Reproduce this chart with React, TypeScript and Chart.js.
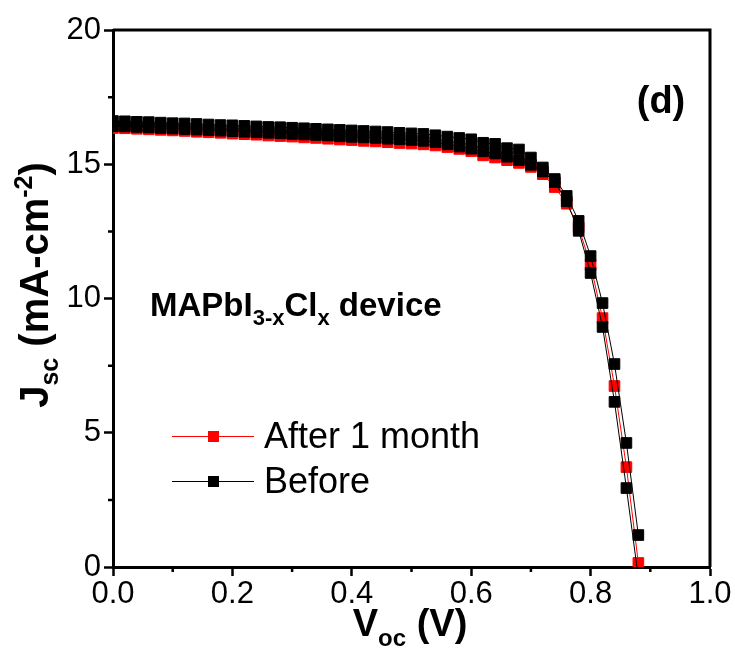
import React, { useEffect, useRef } from 'react';
import { Chart, registerables } from 'chart.js';

Chart.register(...registerables);

// ---- Data ----
const voltage = [
  0.0, 0.02, 0.04, 0.06, 0.08, 0.1, 0.12, 0.14, 0.16, 0.18,
  0.2, 0.22, 0.24, 0.26, 0.28, 0.3, 0.32, 0.34, 0.36, 0.38,
  0.4, 0.42, 0.44, 0.46, 0.48, 0.5, 0.52, 0.54, 0.56, 0.58,
  0.6, 0.62, 0.64, 0.66, 0.68, 0.7, 0.72, 0.74, 0.76, 0.78,
  0.8, 0.82, 0.84, 0.86, 0.88,
];

// "Before" – first scan (upper squares)
const beforeScanA = [
  16.61, 16.6, 16.58, 16.57, 16.55, 16.53, 16.52, 16.5, 16.48, 16.46,
  16.45, 16.43, 16.41, 16.39, 16.38, 16.36, 16.34, 16.32, 16.3, 16.28,
  16.26, 16.24, 16.22, 16.2, 16.17, 16.15, 16.13, 16.08, 16.03, 15.98,
  15.93, 15.8, 15.76, 15.6, 15.55, 15.25, 14.88, 14.45, 13.82, 12.89,
  11.58, 9.83, 7.56, 4.62, 1.19,
];

// "Before" – second scan (lower squares)
const beforeScanB = [
  16.42, 16.41, 16.39, 16.37, 16.35, 16.33, 16.31, 16.29, 16.27, 16.25,
  16.23, 16.21, 16.19, 16.17, 16.15, 16.13, 16.11, 16.09, 16.07, 16.04,
  16.02, 16.0, 15.98, 15.95, 15.93, 15.9, 15.87, 15.82, 15.74, 15.66,
  15.58, 15.48, 15.4, 15.28, 15.15, 14.98, 14.73, 14.33, 13.62, 12.52,
  10.95, 8.94, 6.15, 2.94, -0.4,
];

// "After 1 month"
const afterOneMonth = [
  16.35, 16.34, 16.32, 16.3, 16.28, 16.26, 16.24, 16.21, 16.19, 16.17,
  16.14, 16.12, 16.1, 16.07, 16.05, 16.03, 16.0, 15.98, 15.95, 15.92,
  15.9, 15.87, 15.85, 15.82, 15.79, 15.77, 15.74, 15.7, 15.64, 15.57,
  15.49, 15.33, 15.25, 15.15, 15.05, 14.9, 14.63, 14.15, 13.53, 12.65,
  11.25, 9.27, 6.74, 3.72, 0.15,
];

const xMajorTicks = [0, 0.2, 0.4, 0.6, 0.8, 1.0];
const xMinorTicks = [0.1, 0.3, 0.5, 0.7, 0.9];
const yMajorTicks = [0, 5, 10, 15, 20];
const yMinorTicks = [2.5, 7.5, 12.5, 17.5];

const seriesLabels = ['After 1 month', 'Before'];

const FONT = '"Liberation Sans", Arial, Helvetica, sans-serif';

type Part = { t: string; size: number; bold?: boolean; dy?: number };

function drawRich(
  ctx: CanvasRenderingContext2D,
  parts: Part[],
  x: number,
  y: number,
  align: 'left' | 'center'
) {
  let total = 0;
  const widths = parts.map((p) => {
    ctx.font = `${p.bold ? 'bold ' : ''}${p.size}px ${FONT}`;
    const w = ctx.measureText(p.t).width;
    total += w;
    return w;
  });
  let cx = align === 'center' ? x - total / 2 : x;
  ctx.textAlign = 'left';
  ctx.textBaseline = 'alphabetic';
  parts.forEach((p, i) => {
    ctx.font = `${p.bold ? 'bold ' : ''}${p.size}px ${FONT}`;
    ctx.fillText(p.t, cx, y + (p.dy || 0));
    cx += widths[i];
  });
}

const decorPlugin = {
  id: 'decor',
  afterDraw(chart: any) {
    const { ctx, chartArea, scales } = chart;
    const xs = scales.x;
    const ys = scales.y;
    ctx.save();
    ctx.strokeStyle = '#000';
    ctx.fillStyle = '#000';

    // top & right frame
    ctx.lineWidth = 3;
    ctx.beginPath();
    ctx.moveTo(chartArea.left, chartArea.top);
    ctx.lineTo(chartArea.right, chartArea.top);
    ctx.lineTo(chartArea.right, chartArea.bottom);
    ctx.stroke();

    // minor ticks
    ctx.lineWidth = 2.5;
    ctx.beginPath();
    xMinorTicks.forEach((v) => {
      const px = xs.getPixelForValue(v);
      ctx.moveTo(px, chartArea.bottom);
      ctx.lineTo(px, chartArea.bottom + 5);
    });
    yMinorTicks.forEach((v) => {
      const py = ys.getPixelForValue(v);
      ctx.moveTo(chartArea.left, py);
      ctx.lineTo(chartArea.left - 5, py);
    });
    ctx.stroke();

    // legend
    const legendItems = [
      { label: seriesLabels[0], color: '#ff0000', y: 436 },
      { label: seriesLabels[1], color: '#000000', y: 481 },
    ];
    legendItems.forEach((it) => {
      ctx.strokeStyle = it.color;
      ctx.fillStyle = it.color;
      ctx.lineWidth = 1;
      ctx.beginPath();
      ctx.moveTo(172, it.y + 0.5);
      ctx.lineTo(254, it.y + 0.5);
      ctx.stroke();
      ctx.fillRect(208, it.y - 5, 11, 11);
      ctx.fillStyle = '#000';
      ctx.font = `36px ${FONT}`;
      ctx.textAlign = 'left';
      ctx.textBaseline = 'middle';
      ctx.fillText(it.label, 264, it.y + 2);
    });

    // annotation
    ctx.fillStyle = '#000';
    drawRich(
      ctx,
      [
        { t: 'MAPbI', size: 33, bold: true },
        { t: '3-x', size: 22, bold: true, dy: 9 },
        { t: 'Cl', size: 33, bold: true },
        { t: 'x', size: 22, bold: true, dy: 9 },
        { t: ' device', size: 33, bold: true },
      ],
      150,
      316,
      'left'
    );

    // panel label
    drawRich(ctx, [{ t: '(d)', size: 38, bold: true }], 661, 113, 'center');

    // x title
    drawRich(
      ctx,
      [
        { t: 'V', size: 38, bold: true },
        { t: 'oc', size: 24, bold: true, dy: 10 },
        { t: ' (V)', size: 38, bold: true },
      ],
      410,
      636,
      'center'
    );

    // y title
    ctx.save();
    ctx.translate(48, 285);
    ctx.rotate(-Math.PI / 2);
    drawRich(
      ctx,
      [
        { t: 'J', size: 40, bold: true },
        { t: 'sc', size: 25, bold: true, dy: 10 },
        { t: ' (mA-cm', size: 40, bold: true },
        { t: '-2', size: 25, bold: true, dy: -16 },
        { t: ')', size: 40, bold: true },
      ],
      0,
      0,
      'center'
    );
    ctx.restore();

    ctx.restore();
  },
};

function toPoints(ys: number[]) {
  return voltage.map((v, i) => ({ x: v, y: ys[i] }));
}

export default function App() {
  const canvasRef = useRef<HTMLCanvasElement | null>(null);

  useEffect(() => {
    document.body.style.margin = '0';
    const canvas = canvasRef.current;
    if (!canvas) return;
    const commonPoint = {
      pointStyle: 'rect',
      pointRadius: 7.5,
      pointHoverRadius: 7.5,
      pointBorderWidth: 1,
      borderWidth: 1,
      tension: 0,
    };
    const chart = new Chart(canvas, {
      type: 'line',
      data: {
        datasets: [
          {
            label: seriesLabels[1],
            data: toPoints(beforeScanA),
            borderColor: '#000000',
            backgroundColor: '#000000',
            pointBackgroundColor: '#000000',
            pointBorderColor: '#000000',
            ...commonPoint,
          },
          {
            label: seriesLabels[1] + ' (scan 2)',
            data: toPoints(beforeScanB),
            borderColor: '#000000',
            backgroundColor: '#000000',
            pointBackgroundColor: '#000000',
            pointBorderColor: '#000000',
            ...commonPoint,
          },
          {
            label: seriesLabels[0],
            data: toPoints(afterOneMonth),
            borderColor: '#ff0000',
            backgroundColor: '#ff0000',
            pointBackgroundColor: '#ff0000',
            pointBorderColor: '#ff0000',
            ...commonPoint,
          },
        ] as any,
      },
      options: {
        animation: false,
        responsive: false,
        maintainAspectRatio: false,
        events: [],
        layout: { padding: { left: 0, right: 25, top: 30, bottom: 0 } },
        plugins: {
          legend: { display: false },
          tooltip: { enabled: false },
        },
        scales: {
          x: {
            type: 'linear',
            min: 0,
            max: 1,
            afterBuildTicks: (scale: any) => {
              scale.ticks = xMajorTicks.map((v) => ({ value: v }));
            },
            afterFit: (scale: any) => {
              scale.height = 89;
            },
            ticks: {
              color: '#000',
              font: { family: FONT, size: 31 },
              padding: 0,
              maxRotation: 0,
              autoSkip: false,
              callback: (v: any) => Number(v).toFixed(1),
            },
            grid: {
              drawOnChartArea: false,
              drawTicks: true,
              tickLength: 9,
              tickWidth: 2.5,
              color: '#000',
            },
            border: { display: true, color: '#000', width: 3 },
          },
          y: {
            type: 'linear',
            min: 0,
            max: 20,
            afterBuildTicks: (scale: any) => {
              scale.ticks = yMajorTicks.map((v) => ({ value: v }));
            },
            afterFit: (scale: any) => {
              scale.width = 113;
            },
            ticks: {
              color: '#000',
              font: { family: FONT, size: 31 },
              padding: 3,
              autoSkip: false,
              callback: (v: any) => String(v),
            },
            grid: {
              drawOnChartArea: false,
              drawTicks: true,
              tickLength: 9,
              tickWidth: 2.5,
              color: '#000',
            },
            border: { display: true, color: '#000', width: 3 },
          },
        },
      } as any,
      plugins: [decorPlugin],
    });
    return () => chart.destroy();
  }, []);

  return (
    <div style={{ position: 'fixed', left: 0, top: 0, width: 735, height: 656, background: '#fff' }}>
      <canvas ref={canvasRef} width={735} height={656} style={{ width: 735, height: 656, display: 'block' }} />
    </div>
  );
}
